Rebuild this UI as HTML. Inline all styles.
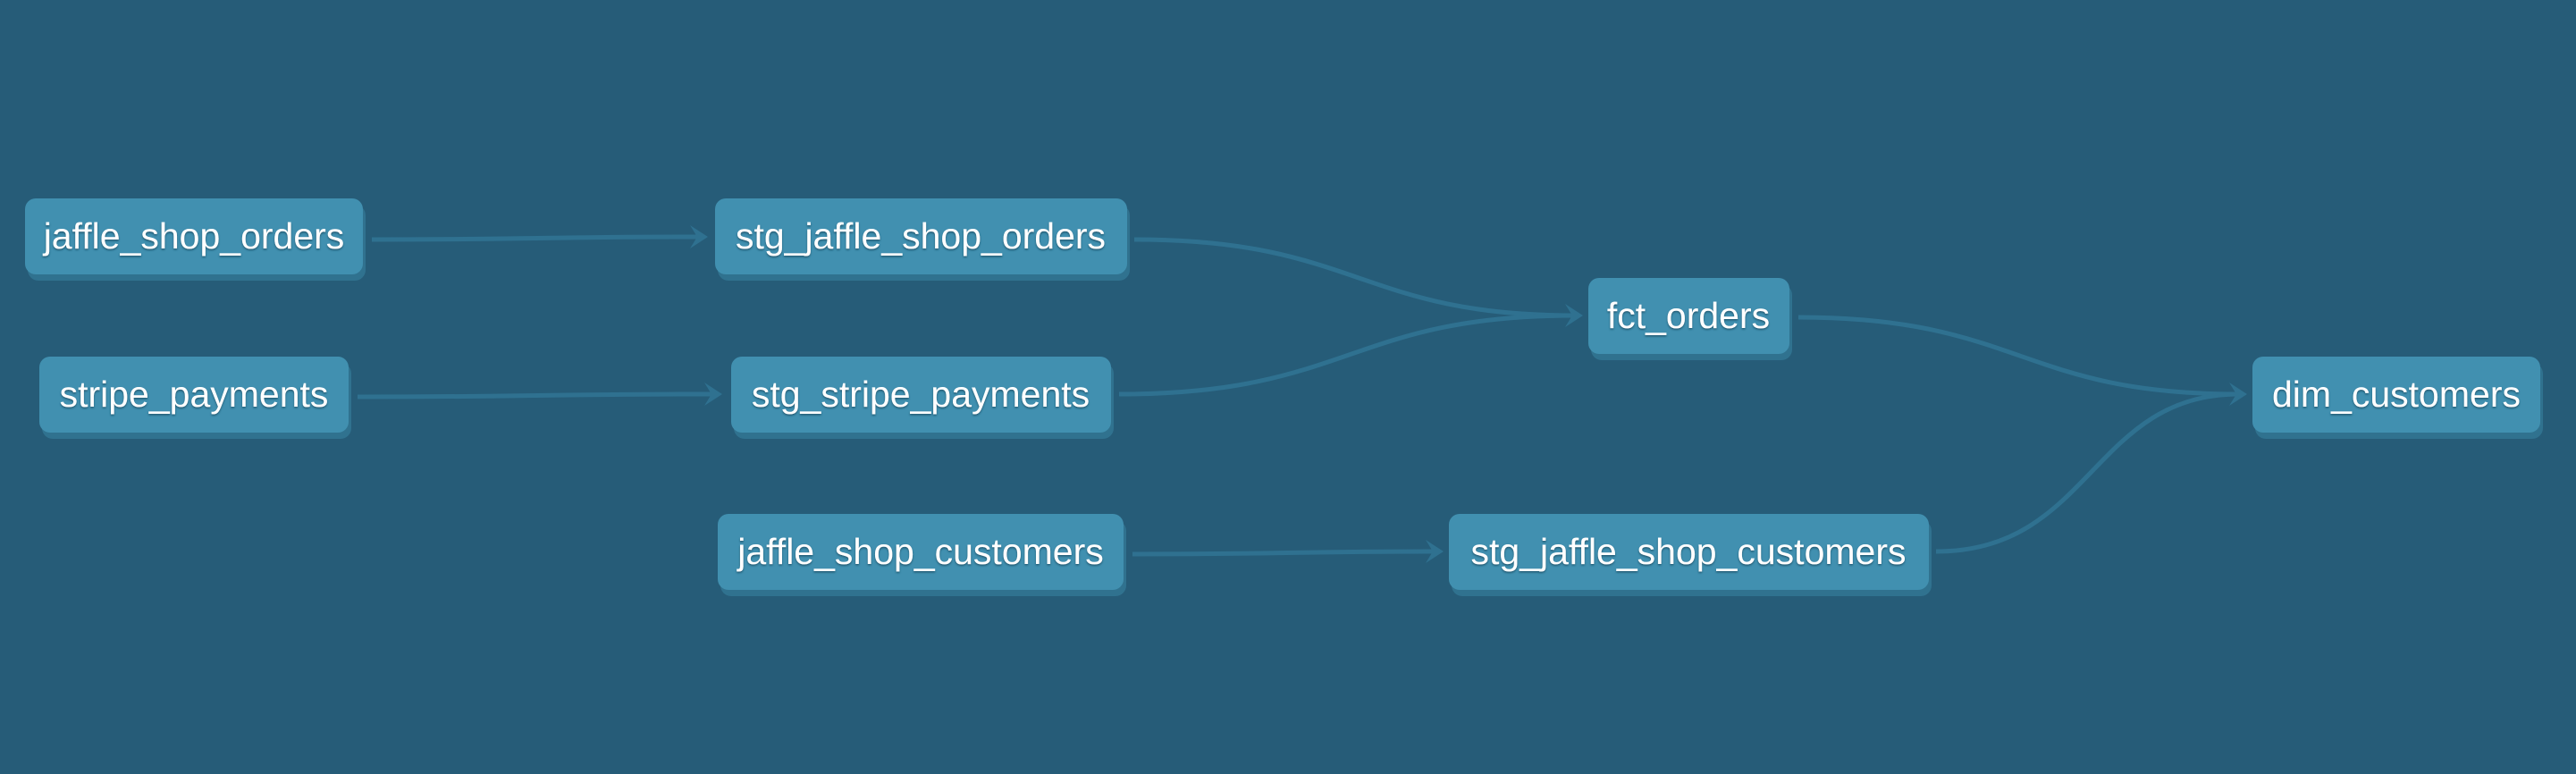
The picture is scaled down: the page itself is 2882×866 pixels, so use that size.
<!DOCTYPE html>
<html><head><meta charset="utf-8"><style>
html,body{margin:0;padding:0;background:#265c78;}
svg{display:block}
text{font-family:"Liberation Sans",sans-serif;font-size:41px;fill:#fff;}
</style></head><body>
<svg width="2882" height="866" viewBox="0 0 2882 866" xmlns="http://www.w3.org/2000/svg">
<rect width="2882" height="866" fill="#265c78"/>
<defs>
<filter id="ts"><feDropShadow dx="0" dy="1.5" stdDeviation="1" flood-color="#1d4a60" flood-opacity="0.8"/></filter>
</defs>
<g fill="none" stroke="#2f7190" stroke-width="5">
<path d="M416 268 C600 268 600 265 784 265"/>
<path d="M400 444 C600 444 600 441 800 441"/>
<path d="M1267 620 C1440 620 1440 617 1606 617"/>
<path d="M1269 268 C1520 268 1520 353 1762 353"/>
<path d="M1252 441 C1510 441 1510 353 1762 353"/>
<path d="M2012 355 C2260 355 2260 441 2505 441"/>
<path d="M2166 617 C2340 617 2340 441 2505 441"/>
</g>
<g fill="#2f7190" stroke="none">
<path d="M772 252 L792 265 L772 278 L780 265 Z"/>
<path d="M788 428 L808 441 L788 454 L796 441 Z"/>
<path d="M1595 604 L1615 617 L1595 630 L1603 617 Z"/>
<path d="M1751 340 L1771 353 L1751 366 L1759 353 Z"/>
<path d="M2494 428 L2514 441 L2494 454 L2502 441 Z"/>
</g>
<g>
<rect x="31" y="229" width="378" height="85" rx="12" fill="#30728f"/>
<rect x="28" y="222" width="378" height="85" rx="12" fill="#4190b0"/>
<text x="217" y="278" text-anchor="middle" filter="url(#ts)">jaffle_shop_orders</text>

<rect x="47" y="406" width="346" height="85" rx="12" fill="#30728f"/>
<rect x="44" y="399" width="346" height="85" rx="12" fill="#4190b0"/>
<text x="217" y="455" text-anchor="middle" filter="url(#ts)">stripe_payments</text>

<rect x="803" y="229" width="461" height="85" rx="12" fill="#30728f"/>
<rect x="800" y="222" width="461" height="85" rx="12" fill="#4190b0"/>
<text x="1030" y="278" text-anchor="middle" filter="url(#ts)">stg_jaffle_shop_orders</text>

<rect x="821" y="406" width="425" height="85" rx="12" fill="#30728f"/>
<rect x="818" y="399" width="425" height="85" rx="12" fill="#4190b0"/>
<text x="1030" y="455" text-anchor="middle" filter="url(#ts)">stg_stripe_payments</text>

<rect x="806" y="582" width="454" height="85" rx="12" fill="#30728f"/>
<rect x="803" y="575" width="454" height="85" rx="12" fill="#4190b0"/>
<text x="1030" y="631" text-anchor="middle" filter="url(#ts)">jaffle_shop_customers</text>

<rect x="1780" y="318" width="225" height="85" rx="12" fill="#30728f"/>
<rect x="1777" y="311" width="225" height="85" rx="12" fill="#4190b0"/>
<text x="1889" y="367" text-anchor="middle" filter="url(#ts)">fct_orders</text>

<rect x="1624" y="582" width="537" height="85" rx="12" fill="#30728f"/>
<rect x="1621" y="575" width="537" height="85" rx="12" fill="#4190b0"/>
<text x="1889" y="631" text-anchor="middle" filter="url(#ts)">stg_jaffle_shop_customers</text>

<rect x="2523" y="406" width="322" height="85" rx="12" fill="#30728f"/>
<rect x="2520" y="399" width="322" height="85" rx="12" fill="#4190b0"/>
<text x="2681" y="455" text-anchor="middle" filter="url(#ts)">dim_customers</text>
</g>
</svg>
</body></html>
